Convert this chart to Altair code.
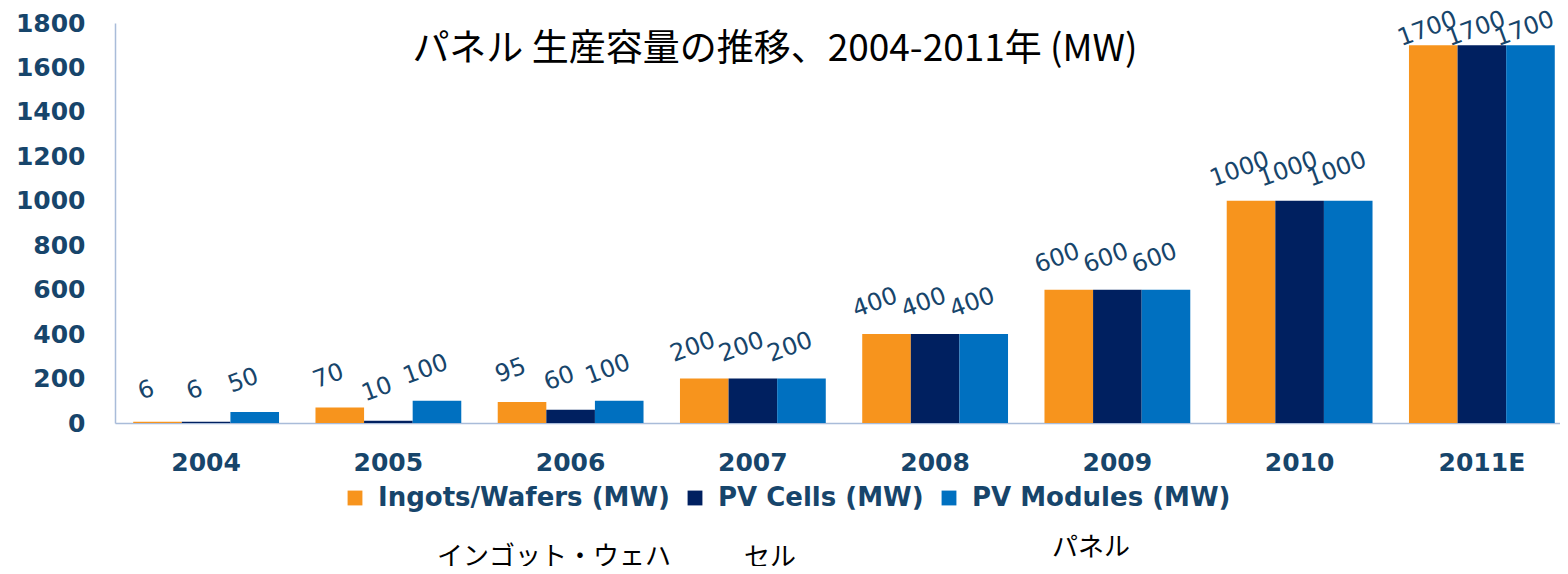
import altair as alt
import pandas as pd

years = ["2004", "2005", "2006", "2007", "2008", "2009", "2010", "2011E"]
series = ["Ingots/Wafers (MW)", "PV Cells (MW)", "PV Modules (MW)"]
ingots = [6, 70, 95, 200, 400, 600, 1000, 1700]
cells = [6, 10, 60, 200, 400, 600, 1000, 1700]
modules = [50, 100, 100, 200, 400, 600, 1000, 1700]
colors = ["#F7941D", "#002060", "#0070C0"]
title_text = "パネル 生産容量の推移、2004-2011年 (MW)"
notes = ["インゴット・ウェハ", "セル", "パネル"]
y_ticks = [0, 200, 400, 600, 800, 1000, 1200, 1400, 1600, 1800]

rows = []
for s, vals in zip(series, [ingots, cells, modules]):
    for yr, v in zip(years, vals):
        rows.append({"year": yr, "series": s, "value": v})
df = pd.DataFrame(rows)

TXT = "#17456B"
AXC = "#A9BCD9"
FONT = "DejaVu Sans"

x_enc = alt.X(
    "year:N", sort=years,
    scale=alt.Scale(range=[0, 1458], paddingInner=0.2, paddingOuter=0.1),
    axis=alt.Axis(title=None, labelAngle=0, labelFont=FONT, labelFontWeight="bold",
                  labelFontSize=25, labelColor=TXT, labelPadding=27, ticks=False,
                  domainColor=AXC, domainWidth=1.5, labelBaseline="top"),
)
xo_enc = alt.XOffset("series:N", sort=series, scale=alt.Scale(paddingInner=0, paddingOuter=0))
y_enc = alt.Y(
    "value:Q", scale=alt.Scale(domain=[0, 1800]),
    axis=alt.Axis(title=None, values=y_ticks, format="d", grid=False, ticks=False, labelFont=FONT,
                  labelFontWeight="bold", labelFontSize=25, labelColor=TXT,
                  labelPadding=30, domainColor=AXC, domainWidth=1.5),
)

base = alt.Chart(df)

bars = base.mark_bar().encode(
    x=x_enc, xOffset=xo_enc, y=y_enc,
    color=alt.Color(
        "series:N", sort=series,
        scale=alt.Scale(domain=series, range=colors),
        legend=alt.Legend(orient="none", legendX=227, legendY=462, direction="horizontal",
                          title=None, symbolType="square", symbolSize=220,
                          labelFont=FONT, labelFontSize=26, labelFontWeight="bold",
                          labelColor=TXT, columnPadding=12, labelOffset=10,
                          symbolStrokeWidth=0, labelLimit=500),
    ),
)

labels_low = base.transform_filter(alt.datum.value < 1500).mark_text(
    angle=340, dy=-33, font=FONT, fontSize=24, color=TXT,
    baseline="middle", align="center").encode(
    x=x_enc, xOffset=xo_enc, y=y_enc, text="value:Q"
)
labels_top = base.transform_filter(alt.datum.value >= 1500).mark_text(
    angle=340, dy=-17, font=FONT, fontSize=24, color=TXT,
    baseline="middle", align="center").encode(
    x=x_enc, xOffset=xo_enc, y=y_enc, text="value:Q"
)

title = alt.Chart(pd.DataFrame({"t": [title_text]})).mark_text(
    font="Noto Sans CJK JP", fontSize=37, color="black", align="center", baseline="middle"
).encode(text="t:N", x=alt.value(660), y=alt.value(27))

note_pos = [(439, 534), (655, 535), (976, 525)]
note_layers = []
for n, (px, py) in zip(notes, note_pos):
    note_layers.append(
        alt.Chart(pd.DataFrame({"t": [n]})).mark_text(
            font="Noto Sans CJK JP", fontSize=26, color="black", align="center", baseline="middle"
        ).encode(text="t:N", x=alt.value(px), y=alt.value(py))
    )

chart = alt.layer(bars, labels_low, labels_top, title, *note_layers).properties(
    width=1445, height=400,
    autosize=alt.AutoSizeParams(type="none"),
    padding={"left": 107, "top": 15, "right": 0, "bottom": 143},
).configure_view(strokeWidth=0)

chart.save("out.html", embed_options={"renderer": "svg", "actions": False})
